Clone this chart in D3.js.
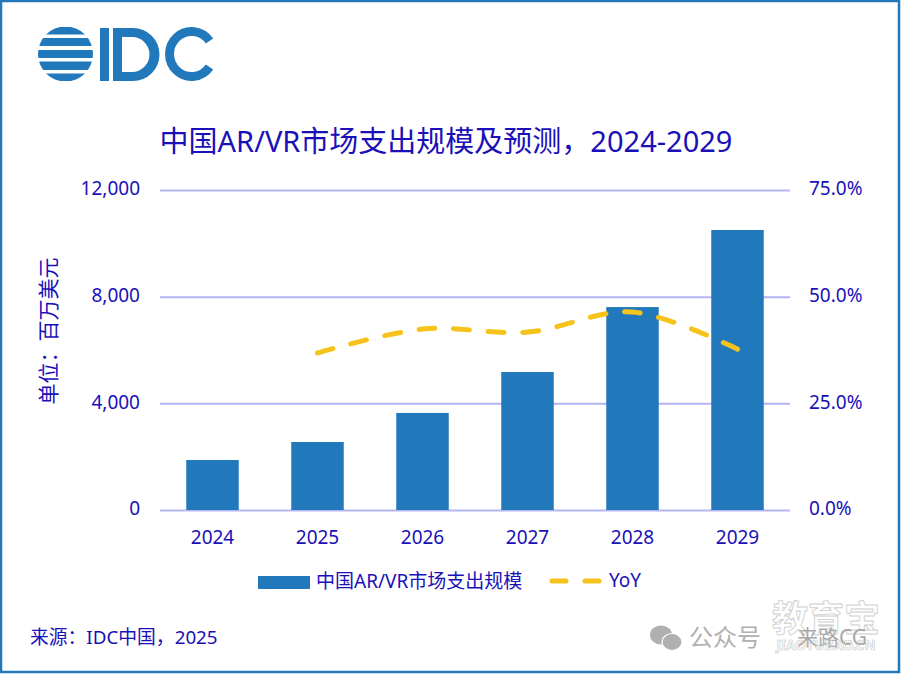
<!DOCTYPE html>
<html>
<head>
<meta charset="utf-8">
<script src="https://cdn.jsdelivr.net/npm/d3@7"></script>
<style>
  html, body { margin: 0; padding: 0; background: #fff; }
  svg { display: block; }
  text { font-family: "Noto Sans", "Noto Sans CJK SC", sans-serif; }
</style>
</head>
<body>
<svg id="chart" width="901" height="674"></svg>
<script>
/* ------------------ data ------------------ */

const years = ["2024", "2025", "2026", "2027", "2028", "2029"];
const spending = [1875, 2550, 3640, 5175, 7610, 10500];
const yoyYears = ["2025", "2026", "2027", "2028", "2029"];
const yoy = [36.8, 42.4, 41.7, 46.4, 37.7];
const leftTicks = [0, 4000, 8000, 12000];
const rightTicks = [0, 25, 50, 75];
const logoBands = [[27, 34.5], [38, 46], [50, 58], [61.5, 70], [73.5, 81]];

/* ------------------ constants ------------------ */

const W = 901;
const H = 674;
const MARGIN = { top: 190, left: 160, right: 111, bottom: 164 };
const TEXT = "#1a10b8";
const BLUE = "#2179bb";
const GOLD = "#f6c31c";
const GRID = "#b5b5f4";
const GRAY = "#b0b0b0";

const svg = d3.select("#chart");

/* ------------------ frame + logo ------------------ */

svg.append("rect")
  .attr("x", 1).attr("y", 1)
  .attr("width", W - 3).attr("height", H - 3)
  .attr("fill", "#fff")
  .attr("stroke", BLUE)
  .attr("stroke-width", 2.5);

const logo = svg.append("g").attr("fill", BLUE);

svg.append("clipPath").attr("id", "globe")
  .append("circle").attr("cx", 65.5).attr("cy", 54).attr("r", 27.5);

logo.append("g").attr("clip-path", "url(#globe)")
  .selectAll("rect")
  .data(logoBands)
  .join("rect")
  .attr("x", 36)
  .attr("y", d => d[0])
  .attr("width", 60)
  .attr("height", d => d[1] - d[0]);

logo.append("rect").attr("x", 100).attr("y", 28).attr("width", 9).attr("height", 53);
logo.append("path")
  .attr("fill-rule", "evenodd")
  .attr("d", "M113,28H133A26.5,26.5 0 0 1 133,81H113Z M122,37V72H132A17.5,17.5 0 0 0 132,37Z");
logo.append("path")
  .attr("fill", "none")
  .attr("stroke", BLUE)
  .attr("stroke-width", 9)
  .attr("d", "M209.5,41A22,22.5 0 1 0 209.5,67");

/* ------------------ scales ------------------ */

const x = d3.scaleBand()
  .domain(years)
  .range([MARGIN.left, W - MARGIN.right])
  .paddingInner(0.5)
  .paddingOuter(0.25);

const yLeft = d3.scaleLinear()
  .domain([0, 12000])
  .range([H - MARGIN.bottom, MARGIN.top]);

const yRight = d3.scaleLinear()
  .domain([0, 75])
  .range([H - MARGIN.bottom, MARGIN.top]);

/* ---- axes ---- */

const gridG = svg.append("g")
  .attr("transform", `translate(${MARGIN.left},0)`)
  .call(d3.axisLeft(yLeft)
    .tickValues(leftTicks)
    .tickSize(-(W - MARGIN.left - MARGIN.right))
    .tickPadding(20)
    .tickFormat(d3.format(",")));
gridG.select(".domain").remove();
gridG.selectAll("line").attr("stroke", GRID).attr("stroke-width", 2);

const rightG = svg.append("g")
  .attr("transform", `translate(${W - MARGIN.right},0)`)
  .call(d3.axisRight(yRight)
    .tickValues(rightTicks)
    .tickSize(0)
    .tickPadding(19)
    .tickFormat(d => d.toFixed(1) + "%"));
rightG.select(".domain").remove();

const xG = svg.append("g")
  .attr("transform", `translate(0,${H - MARGIN.bottom})`)
  .call(d3.axisBottom(x).tickSize(0).tickPadding(21));
xG.select(".domain").remove();

svg.selectAll(".tick text")
  .attr("fill", TEXT)
  .style("font-size", "19px");
gridG.selectAll("text").attr("dy", "0.25em");
rightG.selectAll("text").attr("dy", "0.25em");

/* ---- bars ---- */

svg.append("g")
  .selectAll("rect")
  .data(spending)
  .join("rect")
  .attr("x", (d, i) => x(years[i]))
  .attr("y", d => yLeft(d))
  .attr("width", x.bandwidth())
  .attr("height", d => yLeft(0) - yLeft(d))
  .attr("fill", BLUE);

/* ---- yoy line ---- */

const line = d3.line()
  .x((d, i) => x(yoyYears[i]) + x.bandwidth() / 2)
  .y(d => yRight(d))
  .curve(d3.curveCatmullRom.alpha(0.5));

svg.append("path")
  .datum(yoy)
  .attr("d", line)
  .attr("fill", "none")
  .attr("stroke", GOLD)
  .attr("stroke-width", 5)
  .attr("stroke-linecap", "round")
  .attr("stroke-dasharray", "16 18.7");

/* ------------------ titles ------------------ */

svg.append("text")
  .attr("x", 446).attr("y", 152)
  .attr("text-anchor", "middle")
  .attr("fill", TEXT)
  .style("font-size", "29px")
  .text("中国AR/VR市场支出规模及预测，2024-2029");

svg.append("text")
  .attr("transform", "translate(56,331) rotate(-90)")
  .attr("text-anchor", "middle")
  .attr("fill", TEXT)
  .style("font-size", "21px")
  .text("单位：百万美元");

/* ------------------ legend ------------------ */

svg.append("rect")
  .attr("x", 258).attr("y", 576)
  .attr("width", 52).attr("height", 13)
  .attr("fill", BLUE);

svg.append("text")
  .attr("x", 316).attr("y", 588)
  .attr("fill", TEXT)
  .style("font-size", "19px")
  .text("中国AR/VR市场支出规模");

svg.append("line")
  .attr("x1", 552).attr("x2", 600)
  .attr("y1", 581).attr("y2", 581)
  .attr("stroke", GOLD)
  .attr("stroke-width", 5)
  .attr("stroke-linecap", "round")
  .attr("stroke-dasharray", "14 19");

svg.append("text")
  .attr("x", 609).attr("y", 587)
  .attr("fill", TEXT)
  .style("font-size", "19px")
  .text("YoY");

svg.append("text")
  .attr("x", 30).attr("y", 644)
  .attr("fill", TEXT)
  .style("font-size", "18.8px")
  .text("来源：IDC中国，2025");

/* ------------------ watermark ------------------ */

const wechat = svg.append("g").attr("fill", GRAY);
wechat.append("ellipse").attr("cx", 661).attr("cy", 635).attr("rx", 11).attr("ry", 9.5);
wechat.append("ellipse")
  .attr("cx", 672).attr("cy", 642).attr("rx", 10).attr("ry", 8.5)
  .attr("stroke", "#fff").attr("stroke-width", 1.2);

svg.append("text")
  .attr("x", 689).attr("y", 646)
  .attr("fill", GRAY)
  .style("font-size", "24px")
  .text("公众号");

svg.append("text")
  .attr("x", 826).attr("y", 632)
  .attr("text-anchor", "middle")
  .attr("fill", "#fff")
  .attr("stroke", "#cfcfcf")
  .attr("stroke-width", 0.9)
  .style("font-size", "36px")
  .style("font-weight", 700)
  .text("教育宝");

svg.append("text")
  .attr("x", 797).attr("y", 645)
  .attr("fill", "#a8a8a8")
  .style("font-size", "21px")
  .text("来路CG");

svg.append("text")
  .attr("x", 826).attr("y", 650)
  .attr("text-anchor", "middle")
  .attr("fill", "none")
  .attr("stroke", "#c8c8c8")
  .attr("stroke-width", 0.6)
  .style("font-size", "13.5px")
  .style("font-weight", 700)
  .text("JIAOYUBAO.CN");
</script>
</body>
</html>
